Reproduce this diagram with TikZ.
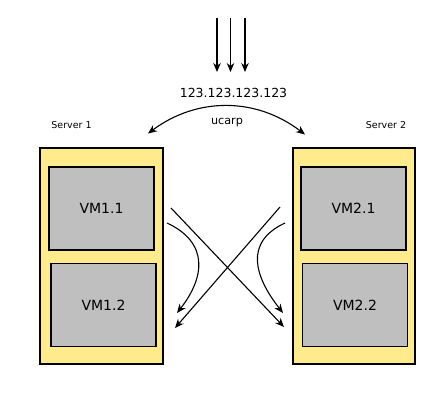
\documentclass[tikz,border=0pt]{standalone}
\usepackage{fontspec}
\setmainfont{DejaVu Sans}
\usetikzlibrary{arrows.meta}
\definecolor{srvyellow}{RGB}{255,234,140}
\definecolor{vmgray}{RGB}{191,191,191}
\tikzstyle{srv}=[shape=rectangle,draw,fill=srvyellow,line width=1.2pt]
\tikzstyle{vm}=[shape=rectangle,draw,fill=vmgray,line width=1.2pt,minimum width=105pt,minimum height=83pt,font=\fontsize{14}{16}\selectfont]
\tikzstyle{lbl}=[font=\fontsize{9.5}{11}\selectfont]
\tikzstyle{arr}=[-{Stealth[length=9pt,width=7.5pt]},line width=1.1pt]
\tikzstyle{both}=[{Stealth[length=9pt,width=7.5pt]}-{Stealth[length=9pt,width=7.5pt]},line width=1.1pt]

\begin{document}
\begin{tikzpicture}[x=1pt,y=-1pt]
            \useasboundingbox (0,0) rectangle (446,408);
            \node[srv,minimum width=123pt,minimum height=216pt] (S1) at (101.5,256) {};
            \node[srv,minimum width=122pt,minimum height=216pt] (S2) at (354,256) {};
            \node[vm] (VM11) at (101.5,208.5) {VM1.1};
            \node[vm] (VM12) at (103.5,305) {VM1.2};
            \node[vm] (VM21) at (353.5,208.5) {VM2.1};
            \node[vm] (VM22) at (355,305) {VM2.2};
            \node[lbl] (L1) at (71.5,125) {Server 1};
            \node[lbl] (L2) at (386,125) {Server 2};
            \node[font=\fontsize{12.5}{14}\selectfont] (IP) at (233.5,93) {123.123.123.123};
            \node[font=\fontsize{11.2}{13}\selectfont] (U) at (227,123) {ucarp};

            % incoming traffic
            \coordinate (in1) at (217,18);
            \coordinate (in2) at (230.5,18);
            \coordinate (in3) at (245,18);
            \coordinate (out1) at (217,72);
            \coordinate (out2) at (230.5,72);
            \coordinate (out3) at (245,72);
            \draw[arr] (in1) -- (out1);
            \draw[arr] (in2) -- (out2);
            \draw[arr] (in3) -- (out3);

            % ucarp failover
            \coordinate (h1) at (148,133.5);
            \coordinate (h2) at (305,134.5);
            \draw[both] (h1) to[bend left=37] (h2);

            % migration
            \coordinate (x1a) at (171,208);
            \coordinate (x1b) at (284,327);
            \coordinate (x2a) at (280,207);
            \coordinate (x2b) at (175,328);
            \draw[arr] (x1a) -- (x1b);
            \draw[arr] (x2a) -- (x2b);
            \coordinate (c1a) at (167,223);
            \coordinate (c1b) at (177,313);
            \coordinate (c2a) at (285,223);
            \coordinate (c2b) at (283,313);
            \draw[arr] (c1a) to[out=-25,in=52,looseness=1.3] (c1b);
            \draw[arr] (c2a) to[out=205,in=128,looseness=1.3] (c2b);
        \end{tikzpicture}
\end{document}
